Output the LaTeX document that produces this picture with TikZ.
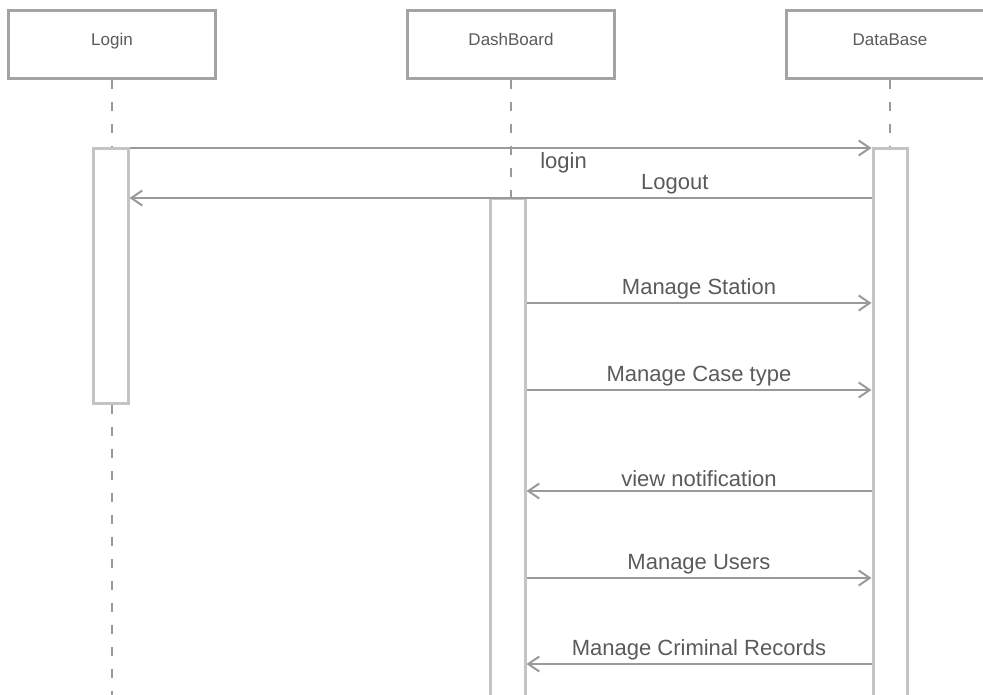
\documentclass[tikz,border=0pt]{standalone}
\usepackage{fontspec}
\setmainfont{Liberation Sans}
\usetikzlibrary{arrows.meta}
\definecolor{edge}{HTML}{A4A4A4}
\definecolor{barline}{HTML}{C4C4C4}
\definecolor{msgline}{HTML}{9A9A9A}
\definecolor{ink}{HTML}{5A5A5A}
\tikzset{
  box/.style={draw=edge, line width=3pt, fill=white, rectangle,
    minimum width=207pt, minimum height=68pt, inner sep=0pt,
    font=\fontsize{17pt}{20pt}\selectfont, text=ink},
  actbar/.style={draw=barline, line width=3pt, fill=white, rectangle,
    inner sep=0pt},
  lifeline/.style={draw=msgline, line width=2pt, dash pattern=on 9pt off 13pt},
  msg/.style={draw=msgline, line width=2.2pt,
    -{Straight Barb[length=11pt,width=15pt,line width=2pt]}},
  msgtext/.style={font=\fontsize{22pt}{26pt}\selectfont, text=ink, inner sep=3pt}
}
\begin{document}
\begin{tikzpicture}[x=1pt,y=-1pt]
\useasboundingbox (0,0) rectangle (983,694);
\clip (0,0) rectangle (983,694);

% participants
\node[box] (login) at (112,44) {\raisebox{9pt}{Login}};
\node[box] (dash)  at (511,44) {\raisebox{9pt}{DashBoard}};
\node[box] (db)    at (890,44) {\raisebox{9pt}{DataBase}};

% activation bars
\node[actbar, minimum width=35pt, minimum height=255pt] (loginbar) at (110.5,275.5) {};
\node[actbar, minimum width=35pt, minimum height=530pt] (dashbar)  at (507.5,463) {};
\node[actbar, minimum width=34pt, minimum height=580pt] (dbbar)    at (890,438) {};

% lifelines
\coordinate (loginend) at (112,700);
\draw[lifeline] (login.south) -- (login.south |- loginbar.north);
\draw[lifeline] (login.south |- loginbar.south) -- (loginend);
\draw[lifeline] (dash.south) -- (dash.south |- dashbar.north);
\draw[lifeline] (db.south) -- (db.south |- dbbar.north);

% message rows
\coordinate (m1) at (0,148);
\coordinate (m2) at (0,198);
\coordinate (m3) at (0,303);
\coordinate (m4) at (0,390);
\coordinate (m5) at (0,491);
\coordinate (m6) at (0,578);
\coordinate (m7) at (0,664);

\draw[msg] (loginbar.east |- m1) -- node[msgtext, below, pos=0.585] {login} (dbbar.west |- m1);
\draw[msg] (dbbar.west |- m2) -- node[msgtext, above, pos=0.265] {Logout} (loginbar.east |- m2);
\draw[msg] (dashbar.east |- m3) -- node[msgtext, above] {Manage Station} (dbbar.west |- m3);
\draw[msg] (dashbar.east |- m4) -- node[msgtext, above] {Manage Case type} (dbbar.west |- m4);
\draw[msg] (dbbar.west |- m5) -- node[msgtext, above] {view notification} (dashbar.east |- m5);
\draw[msg] (dashbar.east |- m6) -- node[msgtext, above] {Manage Users} (dbbar.west |- m6);
\draw[msg] (dbbar.west |- m7) -- node[msgtext, above] {Manage Criminal Records} (dashbar.east |- m7);
\end{tikzpicture}
\end{document}
